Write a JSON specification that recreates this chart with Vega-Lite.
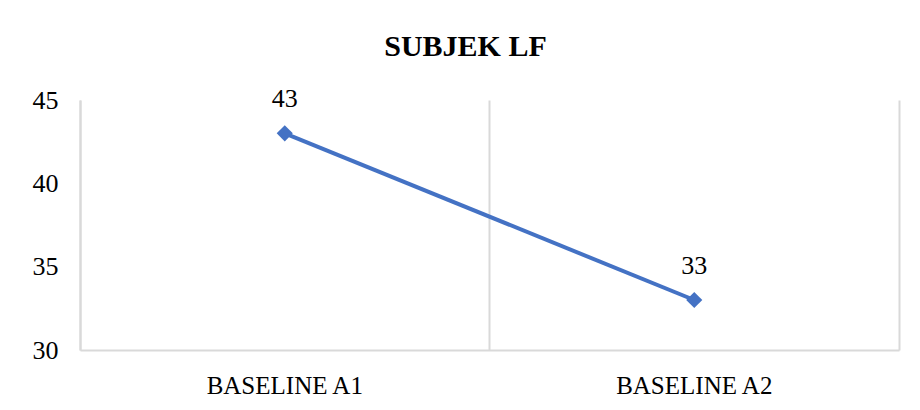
{
  "$schema": "https://vega.github.io/schema/vega-lite/v6.json",
  "autosize": "none",
  "width": 819,
  "height": 250,
  "padding": {"left": 80, "top": 100, "right": 21, "bottom": 60},
  "background": "#ffffff",
  "title": {
    "text": "SUBJEK LF",
    "font": "Liberation Serif",
    "fontSize": 30,
    "fontWeight": "bold",
    "color": "#000000",
    "anchor": "middle",
    "frame": "bounds",
    "baseline": "alphabetic",
    "offset": 0
  },
  "data": {
    "values": [
      {"phase": "BASELINE A1", "value": 43},
      {"phase": "BASELINE A2", "value": 33}
    ]
  },
  "encoding": {
    "x": {
      "field": "phase",
      "type": "nominal",
      "sort": null,
      "scale": {"type": "band", "paddingInner": 0, "paddingOuter": 0},
      "axis": {
        "title": null,
        "labelAngle": 0,
        "labelFont": "Liberation Serif",
        "labelFontSize": 25,
        "labelColor": "#000000",
        "labelBaseline": "alphabetic",
        "labelPadding": 43,
        "ticks": false,
        "domainColor": "#D9D9D9",
        "domainWidth": 2,
        "grid": true,
        "gridColor": "#D9D9D9",
        "gridWidth": 2,
        "bandPosition": 0
      }
    },
    "y": {
      "field": "value",
      "type": "quantitative",
      "scale": {"domain": [30, 45], "nice": false, "zero": false}
    }
  },
  "layer": [
    {
      "mark": {
        "type": "line",
        "color": "#4472C4",
        "strokeWidth": 4,
        "point": {"shape": "diamond", "size": 260, "filled": true, "color": "#4472C4", "opacity": 1}
      },
      "encoding": {
        "y": {
          "field": "value",
          "type": "quantitative",
          "axis": {
            "title": null,
            "values": [30, 35, 40, 45],
            "grid": false,
            "ticks": false,
            "labelFont": "Liberation Serif",
            "labelFontSize": 26,
            "labelColor": "#000000",
            "labelPadding": 22,
            "domainColor": "#D9D9D9",
            "domainWidth": 2
          }
        }
      }
    },
    {
      "mark": {
        "type": "text",
        "font": "Liberation Serif",
        "fontSize": 26,
        "color": "#000000",
        "baseline": "alphabetic",
        "dy": -26
      },
      "encoding": {
        "text": {"field": "value", "type": "quantitative"},
        "y": {
          "field": "value",
          "type": "quantitative",
          "axis": {
            "orient": "right",
            "title": null,
            "labels": false,
            "ticks": false,
            "grid": false,
            "domainColor": "#D9D9D9",
            "domainWidth": 2
          }
        }
      }
    }
  ],
  "resolve": {"axis": {"y": "independent"}},
  "config": {"view": {"stroke": null}}
}
